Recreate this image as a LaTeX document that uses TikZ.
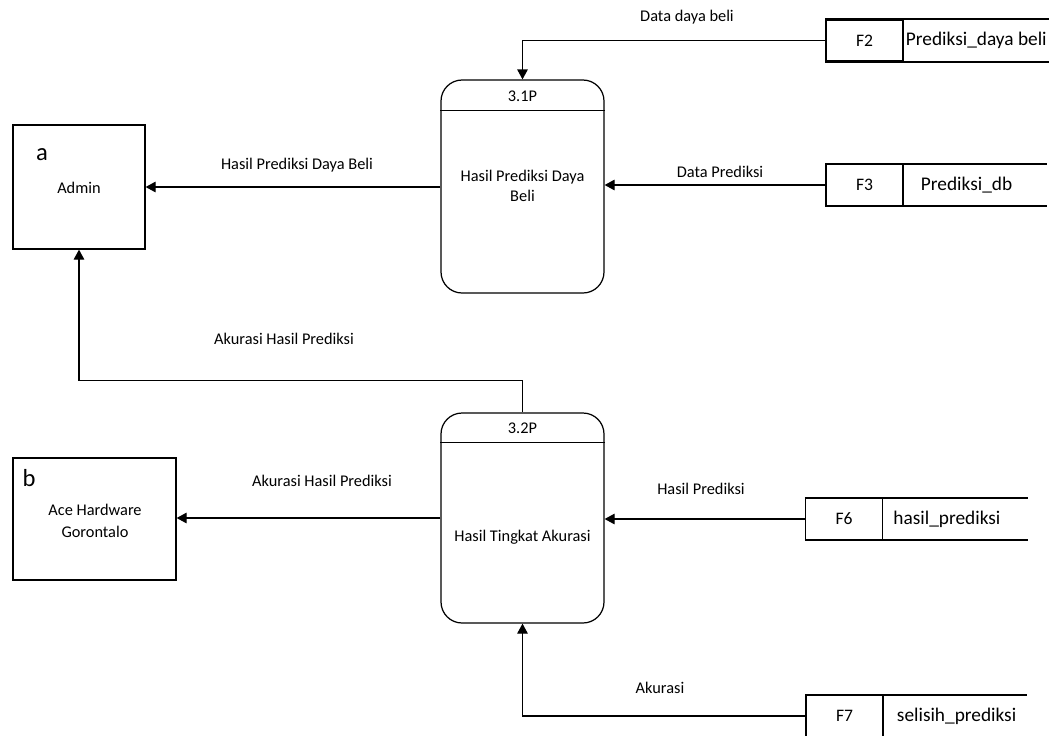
\documentclass[tikz,border=0pt]{standalone}
\usepackage{fontspec}
\setmainfont{Carlito}
\usetikzlibrary{positioning, arrows.meta, calc}

\begin{document}
\begin{tikzpicture}[
    x=0.2mm, y=-0.2mm,
    every node/.style={font=\fontsize{9.3}{11.5}\selectfont, align=center, inner sep=1pt},
    entity/.style ={draw, line width=0.7pt, inner sep=0pt},
    process/.style={draw, line width=0.7pt, rounded corners=12pt, minimum width=32.6mm, inner sep=0pt},
    storeid/.style={draw, line width=0.7pt, minimum width=15.4mm, minimum height=8.2mm, inner sep=0pt, font=\fontsize{10}{12}\selectfont},
    storename/.style={anchor=west, inner sep=0pt, font=\fontsize{11}{13}\selectfont},
    storeline/.style={line width=1.1pt},
    letter/.style={font=\fontsize{14}{16}\selectfont},
    arrow/.style ={-{Triangle[length=2mm, width=2.1mm]}, line width=0.7pt},
    flow/.style  ={inner sep=0pt}
]
\useasboundingbox (0,0) rectangle (1059,735);

% ========== External entities ==========
\node[entity, minimum width=26.4mm, minimum height=24.8mm] (admin) at (79,187) {};
\node[letter] (adminid) at (42,155) {a};
\node (adminlbl) at (79,188) {Admin};

\node[entity, minimum width=32.6mm, minimum height=24.4mm] (ace) at (94.5,519) {};
\node[letter] (aceid) at (29,478) {b};
\node (acelbl) at (95,521) {Ace Hardware\\[1pt]Gorontalo};

% ========== Processes ==========
\node[process, minimum height=42.6mm] (p31) at (522.5,186.5) {};
\draw[line width=0.7pt] ($(p31.north west)+(0,31)$) -- ($(p31.north east)+(0,31)$);
\node (p31id)   at (522.5,96)  {3.1P};
\node (p31lbl)  at (522.5,186) {Hasil Prediksi Daya\\Beli};

\node[process, minimum height=42mm] (p32) at (522.5,518) {};
\draw[line width=0.7pt] ($(p32.north west)+(0,30)$) -- ($(p32.north east)+(0,30)$);
\node (p32id)   at (522.5,428) {3.2P};
\node (p32lbl)  at (522.5,537) {Hasil Tingkat Akurasi};

% ========== Data stores ==========
\node[storeid] (f2) at (864.5,40.5) {F2};
\node[storename, right=0.4mm of f2] (f2name) {Prediksi\_daya beli};
\draw[storeline] (f2.north west) -- ++(224,0);
\draw[storeline] (f2.south west) -- ++(224,0);

\node[storeid] (f3) at (864.5,185) {F3};
\node[storename, right=3.4mm of f3] (f3name) {Prediksi\_db};
\draw[storeline] (f3.north west) -- ++(222,0);
\draw[storeline] (f3.south west) -- ++(222,0);

\node[storeid] (f6) at (844,519) {F6};
\node[storename, right=2mm of f6] (f6name) {hasil\_prediksi};
\draw[storeline] (f6.north west) -- ++(223,0);
\draw[storeline] (f6.south west) -- ++(223,0);

\node[storeid] (f7) at (844.5,716) {F7};
\node[storename, right=2.6mm of f7] (f7name) {selisih\_prediksi};
\draw[storeline] (f7.north west) -- ++(222,0);
\draw[storeline] (f7.south west) -- ++(222,0);

% ========== Flows ==========
\draw[arrow] (f2.west) -| (p31.north);
\node[flow] (l1) at (687,17) {Data daya beli};

\draw[arrow] (f3.west) -- (f3.west -| p31.east);
\node[flow] (l2) at (720,172) {Data Prediksi};

\draw[arrow] (p31.west |- admin.east) -- (admin.east);
\node[flow] (l3) at (297,165) {Hasil Prediksi Daya Beli};

\draw[arrow] (p32.north) -- ++(0,-32) -| (admin.south);
\node[flow] (l4) at (284,339) {Akurasi Hasil Prediksi};

\draw[arrow] (p32.west) -- (p32.west -| ace.east);
\node[flow] (l5) at (322,481) {Akurasi Hasil Prediksi};

\draw[arrow] (f6.west) -- (f6.west -| p32.east);
\node[flow] (l6) at (701,489) {Hasil Prediksi};

\draw[arrow] (f7.west) -| (p32.south);
\node[flow] (l7) at (660,688) {Akurasi};

\end{tikzpicture}
\end{document}
